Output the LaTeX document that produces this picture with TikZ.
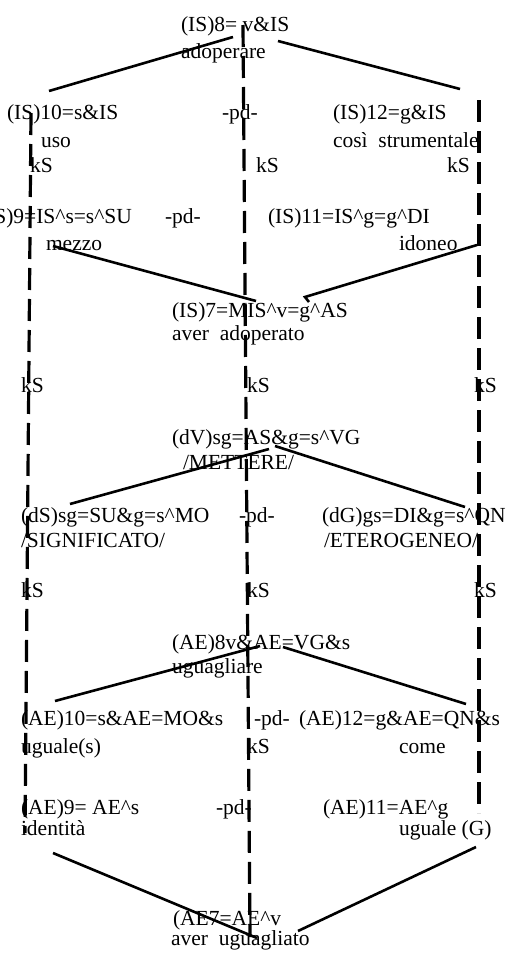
\documentclass[tikz,border=0pt]{standalone}
\usepackage{fontspec}
\setmainfont{Liberation Serif}

\begin{document}
\begin{tikzpicture}[
  x=1pt, y=-1pt,
  lbl/.style={
    anchor=base west, inner sep=0pt, outer sep=0pt,
    font=\fontsize{21.5}{24}\selectfont
  },
  link/.style={line width=2.6pt, black},
  axis/.style={line width=3.2pt, black, dash pattern=on 22pt off 9pt}
]
\useasboundingbox (0,0) rectangle (507,961);

%% ═══ BLOCCO IS ═══
\node[lbl] (is8)   at (181,31)  {(IS)8= v\&IS};
\node[lbl] (is8g)  at (181,58)  {adoperare};

\node[lbl] (is10)  at (7,119)   {(IS)10=s\&IS};
\node[lbl] (is10g) at (41,147)  {uso};
\node[lbl] (pd1)   at (222,119) {-pd-};
\node[lbl] (is12)  at (333,119) {(IS)12=g\&IS};
\node[lbl] (is12g) at (333,147) {così\ \ strumentale};

\node[lbl] (ks1) at (30,172)  {kS};
\node[lbl] (ks2) at (256,172) {kS};
\node[lbl] (ks3) at (447,172) {kS};

\node[lbl] (is9)   at (-20,223) {(IS)9=IS\textasciicircum s=s\textasciicircum SU};
\node[lbl] (pd2)   at (165,223) {-pd-};
\node[lbl] (is11)  at (268,223) {(IS)11=IS\textasciicircum g=g\textasciicircum DI};
\node[lbl] (is9g)  at (46,250)  {mezzo};
\node[lbl] (is11g) at (399,250) {idoneo};

\node[lbl] (is7)   at (172,317) {(IS)7=MIS\textasciicircum v=g\textasciicircum AS};
\node[lbl] (is7g)  at (172,340) {aver\ \ adoperato};

%% ═══ BLOCCO dV ═══
\node[lbl] (ks4) at (21,392)  {kS};
\node[lbl] (ks5) at (247,392) {kS};
\node[lbl] (ks6) at (474,392) {kS};

\node[lbl] (dv)  at (172,444) {(dV)sg=AS\&g=s\textasciicircum VG};
\node[lbl] (dvg) at (183,469) {/METTERE/};

\node[lbl] (ds)  at (21,522)  {(dS)sg=SU\&g=s\textasciicircum MO};
\node[lbl] (pd3) at (239,522) {-pd-};
\node[lbl] (dg)  at (322,522) {(dG)gs=DI\&g=s\textasciicircum QN};
\node[lbl] (dsg) at (21,547)  {/SIGNIFICATO/};
\node[lbl] (dgg) at (324,547) {/ETEROGENEO/};

%% ═══ BLOCCO AE ═══
\node[lbl] (ks7) at (21,597)  {kS};
\node[lbl] (ks8) at (247,597) {kS};
\node[lbl] (ks9) at (474,597) {kS};

\node[lbl] (ae8)  at (172,649) {(AE)8v\&AE=VG\&s};
\node[lbl] (ae8g) at (172,673) {uguagliare};

\node[lbl] (ae10)  at (21,725)  {(AE)10=s\&AE=MO\&s};
\node[lbl] (pd4)   at (254,725) {-pd-};
\node[lbl] (ae12)  at (299,725) {(AE)12=g\&AE=QN\&s};
\node[lbl] (ae10g) at (21,753)  {uguale(s)};
\node[lbl] (ks10)  at (247,753) {kS};
\node[lbl] (ae12g) at (399,753) {come};

\node[lbl] (ae9)   at (21,814)  {(AE)9= AE\textasciicircum s};
\node[lbl] (pd5)   at (216,814) {-pd-};
\node[lbl] (ae11)  at (323,814) {(AE)11=AE\textasciicircum g};
\node[lbl] (ae9g)  at (21,835)  {identità};
\node[lbl] (ae11g) at (399,835) {uguale (G)};

\node[lbl] (ae7)  at (173,925) {(AE7=AE\textasciicircum v};
\node[lbl] (ae7g) at (171,945) {aver\ \ uguagliato};

%% ═══ ASSI TRATTEGGIATI ═══
\coordinate (axL1) at (31,113);  \coordinate (axL2) at (25,833);
\coordinate (axM1) at (243,25);  \coordinate (axM2) at (250,937);
\coordinate (axR1) at (479,100); \coordinate (axR2) at (479,813);
\draw[axis] (axL1) -- (axL2);
\draw[axis] (axM1) -- (axM2);
\draw[axis] (axR1) -- (axR2);

%% ═══ COLLEGAMENTI ═══
\draw[link] ([xshift=42pt,yshift=28pt]is10.base west) -- ([xshift=52pt,yshift=-6pt]is8.base west);
\draw[link] ([xshift=97pt,yshift=-10pt]is8.base west) -- ([xshift=127pt,yshift=30pt]is12.base west);

\draw[link] ([xshift=7pt,yshift=4pt]is9g.base west) -- ([xshift=84pt,yshift=16pt]is7.base west);
\draw[link] ([xshift=78pt,yshift=5pt]is11g.base west) -- ([xshift=133pt,yshift=20pt]is7.base west)
  -- ([xshift=137pt,yshift=15pt]is7.base west);

\draw[link] ([xshift=49pt,yshift=18pt]ds.base west) -- ([xshift=97pt,yshift=-5pt]dv.base west);
\draw[link] ([xshift=103pt,yshift=-2pt]dv.base west) -- ([xshift=143pt,yshift=15pt]dg.base west);

\draw[link] ([xshift=34pt,yshift=24pt]ae10.base west) -- ([xshift=88pt,yshift=3pt]ae8.base west);
\draw[link] ([xshift=111pt,yshift=2pt]ae8.base west) -- ([xshift=167pt,yshift=21pt]ae12.base west);

\draw[link] ([xshift=32pt,yshift=-18pt]ae9g.base west) -- ([xshift=84pt,yshift=-13pt]ae7.base west);
\draw[link] ([xshift=77pt,yshift=-12pt]ae11g.base west) -- ([xshift=125pt,yshift=-6pt]ae7.base west);

\end{tikzpicture}
\end{document}
